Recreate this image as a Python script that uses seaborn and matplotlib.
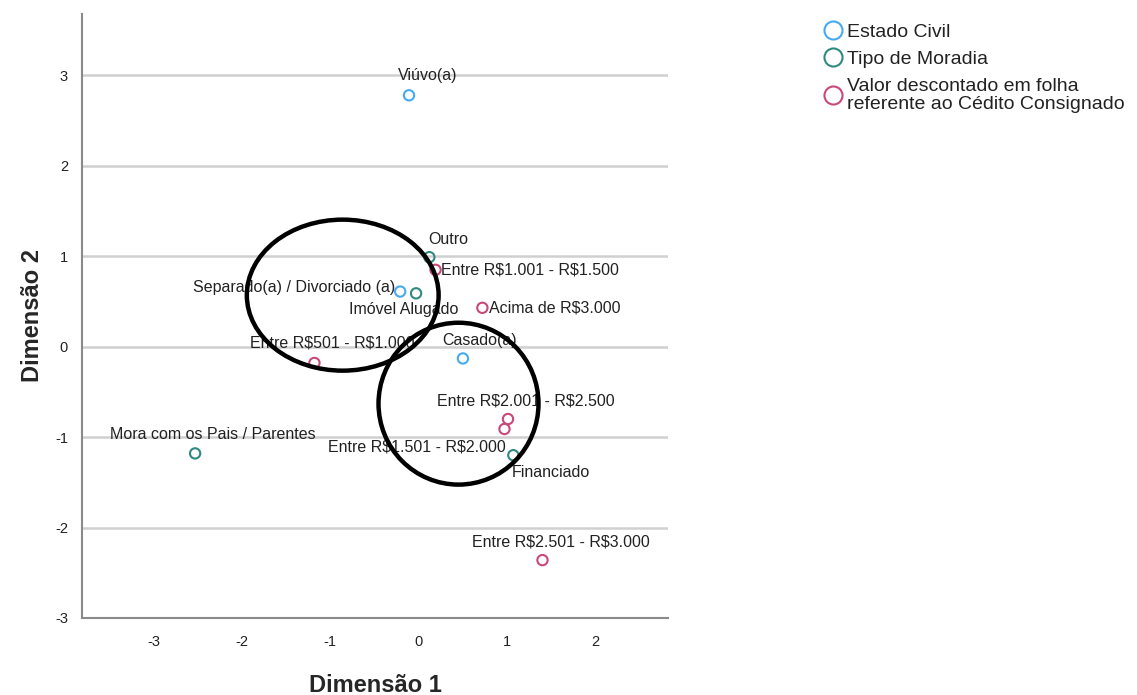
import seaborn as sns
import matplotlib.pyplot as plt
import pandas as pd
from matplotlib.lines import Line2D
from matplotlib.patches import Ellipse

# Pontos (coordenadas das categorias)
rotulos = ['Viúvo(a)', 'Separado(a) / Divorciado (a)', 'Casado(a)',
           'Outro', 'Imóvel Alugado', 'Mora com os Pais / Parentes', 'Financiado',
           'Entre R$1.001 - R$1.500', 'Acima de R$3.000', 'Entre R$501 - R$1.000',
           'Entre R$2.001 - R$2.500', 'Entre R$1.501 - R$2.000', 'Entre R$2.501 - R$3.000']
dim1 = [-0.11, -0.21, 0.50,
        0.12, -0.03, -2.53, 1.07,
        0.19, 0.72, -1.18, 1.01, 0.97, 1.40]
dim2 = [2.78, 0.61, -0.13,
        0.99, 0.59, -1.18, -1.20,
        0.85, 0.43, -0.18, -0.80, -0.91, -2.36]
grupos = ['Estado Civil'] * 3 + ['Tipo de Moradia'] * 4 + \
         ['Valor descontado em folha\nreferente ao Cédito Consignado'] * 6

# posição do texto em relação ao ponto (dx, dy em pixels, alinhamento)
offsets = [(19, 20, 'center'), (-5, 4, 'right'), (17, 18, 'center'),
           (19, 18, 'center'), (-12, -16, 'center'), (18, 19, 'center'), (38, -17, 'center'),
           (5, 0, 'left'), (7, 0, 'left'), (18, 20, 'center'),
           (18, 18, 'center'), (-88, -18, 'center'), (18, 18, 'center')]

# elipses desenhadas à mão (centro x, centro y, largura, altura)
elipses = [(-0.86, 0.57, 2.17, 1.67), (0.45, -0.63, 1.81, 1.79)]

cores = {'Estado Civil': '#45aaf0',
         'Tipo de Moradia': '#2e8a80',
         'Valor descontado em folha\nreferente ao Cédito Consignado': '#c8487a'}

df = pd.DataFrame({'Dimensão 1': dim1, 'Dimensão 2': dim2, 'grupo': grupos, 'rotulo': rotulos})

sns.set_style('white')
plt.rcParams['font.family'] = ['Liberation Sans', 'DejaVu Sans']
plt.rcParams['axes.unicode_minus'] = False

fig = plt.figure(figsize=(11.37, 6.95), dpi=100)
ax = fig.add_axes([0.0721, 0.1108, 0.5154, 0.8692])

sns.scatterplot(data=df, x='Dimensão 1', y='Dimensão 2', hue='grupo', palette=cores,
                s=55, linewidth=1.5, legend=False, ax=ax, zorder=3)
coll = ax.collections[0]
fc = coll.get_facecolors()
coll.set_edgecolors(fc)
coll.set_facecolors('none')

for i, row in df.iterrows():
    dx, dy, ha = offsets[i]
    ax.annotate(row['rotulo'], (row['Dimensão 1'], row['Dimensão 2']),
                xytext=(dx, dy), textcoords='offset pixels', ha=ha, va='center',
                fontsize=11.5, color='#222222', zorder=4, parse_math=False)

for cx, cy, w, h in elipses:
    ax.add_patch(Ellipse((cx, cy), w, h, fill=False, edgecolor='black', linewidth=3.2, zorder=5))

ax.set_xlim(-3.81, 2.82)
ax.set_ylim(-3.0, 3.68)
ax.set_xticks([-3, -2, -1, 0, 1, 2])
ax.set_yticks([-3, -2, -1, 0, 1, 2, 3])
ax.yaxis.grid(True, color='#d0d0d0', linewidth=1.8)
ax.set_axisbelow(True)
for s in ['top', 'right']:
    ax.spines[s].set_visible(False)
for s in ['left', 'bottom']:
    ax.spines[s].set_color('#8a8a8a')
    ax.spines[s].set_linewidth(1.5)
ax.tick_params(axis='both', length=0, labelsize=10.5, colors='#222222')
ax.tick_params(axis='x', pad=12)
ax.tick_params(axis='y', pad=10)
ax.set_xlabel('Dimensão 1', fontsize=17, fontweight='bold', labelpad=18)
ax.set_ylabel('Dimensão 2', fontsize=17, fontweight='bold', labelpad=8)

handles = [Line2D([], [], marker='o', linestyle='none', markersize=13,
                  markerfacecolor='none', markeredgecolor=c, markeredgewidth=1.5)
           for c in cores.values()]
leg = fig.legend(handles, list(cores.keys()), loc='upper left', bbox_to_anchor=(0.716, 0.978),
                 frameon=False, fontsize=14, handletextpad=0.2, labelspacing=0.5,
                 handlelength=1.1, borderaxespad=0)
for t in leg.get_texts():
    t.set_linespacing(1.1)
    t.set_color('#222222')

fig.savefig('out.png', dpi=100)
